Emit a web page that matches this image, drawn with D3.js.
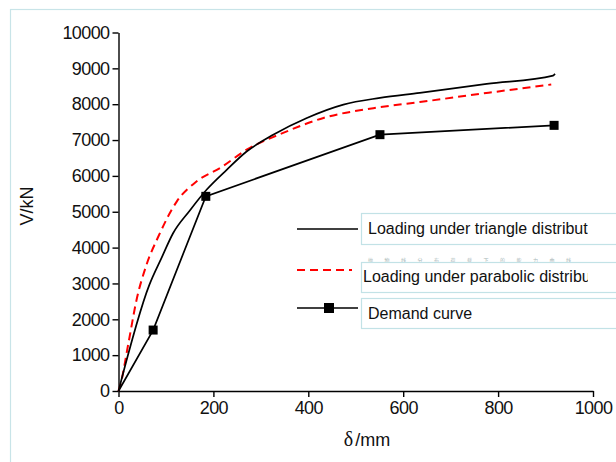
<!DOCTYPE html>
<html>
<head>
<meta charset="utf-8">
<script src="https://cdn.jsdelivr.net/npm/d3@7"></script>
<style>
  body { margin: 0; background: #fff; }
  svg { display: block; font-family: "Liberation Sans", Arial, sans-serif; }
</style>
</head>
<body>
<svg id="chart" width="616" height="462"></svg>
<script>
'use strict';
// curve data: [delta (mm), V (kN)]
var triangleCurve = [[0, 0], [65, 2960], [91, 3720], [115, 4400], [150, 5030], [186, 5620],
  [228, 6170], [270, 6680], [326, 7150], [397, 7617], [474, 7990], [551, 8175], [635, 8316],
  [776, 8567], [916, 8799], [920, 8846]];
var parabolicCurve = [[0, 0], [3, 120], [21, 1340], [38, 2540], [59, 3520], [84, 4310],
  [123, 5290], [165, 5850], [214, 6220], [270, 6730], [347, 7200], [432, 7617], [537, 7890],
  [635, 8060], [780, 8320], [912, 8550]];
var demandCurve = [[0, 0], [73, 1700], [184, 5430], [551, 7150], [918, 7410]];
var xTicks = [0, 200, 400, 600, 800, 1000];
var yTicks = [0, 1000, 2000, 3000, 4000, 5000, 6000, 7000, 8000, 9000, 10000];
var legendLabels = ['Loading under triangle distribution', 'Loading under parabolic distribution', 'Demand curve'];

(() => {
  var svg = d3.select('#chart');
  var x = d3.scaleLinear().domain([0, 1000]).range([118.5, 593]);
  var y = d3.scaleLinear().domain([0, 10000]).range([391, 32.5]);
  var fmt = d3.format('d');

  // outer frame
  svg.append('rect')
    .attr('x', 10.5).attr('y', 9.5).attr('width', 700).attr('height', 500)
    .attr('fill', 'none').attr('stroke', '#c8e4e8').attr('stroke-width', 1.2);

  // minor + major ticks
  var gx = svg.append('g').attr('transform', `translate(0, ${y(0)})`);
  gx.call(d3.axisBottom(x).tickValues(d3.range(100, 1000, 200)).tickSize(4).tickFormat(''));
  gx.call(d3.axisBottom(x).tickValues(xTicks).tickFormat(fmt).tickSize(6).tickSizeOuter(0).tickPadding(4));
  var gy = svg.append('g').attr('transform', `translate(${x(0)}, 0)`);
  gy.call(d3.axisLeft(y).tickValues(d3.range(500, 10000, 1000)).tickSize(4).tickFormat(''));
  gy.call(d3.axisLeft(y).tickValues(yTicks).tickFormat(fmt).tickSize(6).tickSizeOuter(0).tickPadding(3));
  svg.selectAll('.domain, .tick line').attr('stroke', '#000').attr('stroke-width', 1.4);
  svg.selectAll('.tick text')
    .attr('font-size', 18).attr('fill', '#111').attr('letter-spacing', -0.6)
    .attr('font-family', '"Liberation Sans", Arial, sans-serif');

  // axis titles
  svg.append('text')
    .attr('transform', 'translate(33, 206) rotate(-90)')
    .attr('text-anchor', 'middle').attr('font-size', 18).attr('fill', '#111')
    .text('V/kN');
  var xt = svg.append('text')
    .attr('x', 367).attr('y', 446).attr('text-anchor', 'middle')
    .attr('font-size', 18).attr('fill', '#111');
  xt.append('tspan').attr('font-family', '"Liberation Serif", "Times New Roman", serif').attr('font-size', 20).text('δ');
  xt.append('tspan').attr('dx', 2).text('/mm');

  var line = d3.line().x(d => x(d[0])).y(d => y(d[1]));
  var smooth = d3.line().x(d => x(d[0])).y(d => y(d[1])).curve(d3.curveMonotoneX);

  svg.append('path').datum(parabolicCurve).attr('d', smooth)
    .attr('fill', 'none').attr('stroke', '#ff0000').attr('stroke-width', 2)
    .attr('stroke-dasharray', '8,5');
  svg.append('path').datum(triangleCurve).attr('d', smooth)
    .attr('fill', 'none').attr('stroke', '#000').attr('stroke-width', 1.7);
  svg.append('path').datum(demandCurve).attr('d', line)
    .attr('fill', 'none').attr('stroke', '#000').attr('stroke-width', 1.7);
  svg.selectAll('rect.pt').data(demandCurve.slice(1)).enter().append('rect')
    .attr('class', 'pt')
    .attr('x', d => x(d[0]) - 4.5).attr('y', d => y(d[1]) - 4.5)
    .attr('width', 9).attr('height', 9).attr('fill', '#000');

  // legend
  svg.append('defs').append('clipPath').attr('id', 'legclip')
    .append('rect').attr('x', 0).attr('y', 0).attr('width', 588).attr('height', 462);

  // faint text peeking out above the second box
  svg.append('text')
    .attr('x', 368).attr('y', 261.5).attr('font-size', 5).attr('fill', '#a9b8b8')
    .attr('letter-spacing', 11.5)
    .attr('font-family', '"Noto Sans CJK SC", sans-serif')
    .text('抛物线分布荷载下的能力曲线');

  var boxes = [{ y: 213, h: 31, tx: 368, ty: 234, ly: 229 },
    { y: 262, h: 30, tx: 363, ty: 282, ly: 270 },
    { y: 298, h: 30, tx: 368, ty: 319, ly: 308 }];
  var lg = svg.selectAll('g.leg').data(legendLabels).enter().append('g').attr('class', 'leg');
  lg.append('rect')
    .attr('x', 361.5).attr('y', (d, i) => boxes[i].y + 0.5)
    .attr('width', 300).attr('height', (d, i) => boxes[i].h)
    .attr('fill', '#fff').attr('stroke', '#c2e2e6').attr('stroke-width', 1.2);
  lg.append('text')
    .attr('x', (d, i) => boxes[i].tx).attr('y', (d, i) => boxes[i].ty)
    .attr('font-size', 16).attr('fill', '#111')
    .attr('clip-path', 'url(#legclip)')
    .text(d => d);
  lg.append('line')
    .attr('x1', 297).attr('x2', (d, i) => i == 1 ? 352 : 358)
    .attr('y1', (d, i) => boxes[i].ly).attr('y2', (d, i) => boxes[i].ly)
    .attr('stroke', (d, i) => i == 1 ? '#ff0000' : '#000')
    .attr('stroke-width', (d, i) => i == 1 ? 2 : 1.7)
    .attr('stroke-dasharray', (d, i) => i == 1 ? '8,5' : null);
  svg.append('rect')
    .attr('x', 329 - 5).attr('y', boxes[2].ly - 5).attr('width', 10).attr('height', 10)
    .attr('fill', '#000');
})();
</script>
</body>
</html>
